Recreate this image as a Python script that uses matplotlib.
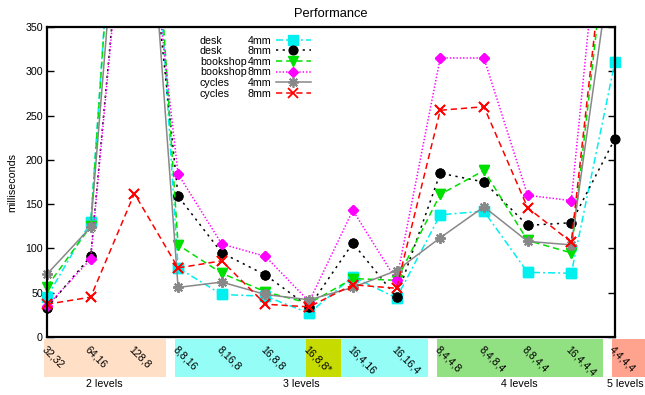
import numpy as np
import matplotlib
matplotlib.use("Agg")
import matplotlib.pyplot as plt
from matplotlib.patches import Rectangle
from matplotlib.lines import Line2D

# ---------------- data ----------------
categories = ["32,32", "64,16", "128,8", "8,8,16", "8,16,8", "16,8,8", "16,8,8*",
              "16,4,16", "16,16,4", "8,4,4,8", "8,4,8,4", "8,8,4,4", "16,4,4,4", "4,4,4,4"]

desk_4mm = [45, 130, 850, 78, 48, 46, 27, 68, 44, 138, 142, 73, 72, 311]
desk_8mm = [33, 91, 630, 159, 95, 70, 34, 106, 45, 185, 175, 126, 129, 224]
bookshop_4mm = [57, 125, 850, 104, 72, 51, 38, 66, 64, 161, 188, 109, 95, 532]
bookshop_8mm = [35, 88, 620, 184, 105, 91, 40, 143, 64, 315, 315, 160, 154, 652]
cycles_4mm = [71, 124, 730, 56, 62, 48, 42, 56, 75, 112, 147, 108, 104, 455]
cycles_8mm = [37, 45, 162, 78, 86, 37, 34, 59, 55, 256, 260, 146, 107, 550]

scene_names = ["desk", "desk", "bookshop", "bookshop", "cycles", "cycles"]
size_names = ["4mm", "8mm", "4mm", "8mm", "4mm", "8mm"]

group_names = ["2 levels", "3 levels", "4 levels", "5 levels"]
group_first = [0, 3, 9, 13]
group_last = [2, 8, 12, 13]
group_colors = ["#ffdfc6", "#93fdf6", "#91e082", "#ffa38e"]
highlight_index = 6
highlight_color = "#c6dc00"

y_ticks = [0, 50, 100, 150, 200, 250, 300, 350]
y_max = 350

# ---------------- style ----------------
plt.rcParams['font.family'] = ['Liberation Sans', 'DejaVu Sans']
plt.rcParams['font.size'] = 7.7
plt.rcParams['lines.scale_dashes'] = False

fig = plt.figure(figsize=(6.45, 3.95), dpi=100)
ax = fig.add_axes([47 / 645, 1 - 337 / 395, 568 / 645, 310 / 395])

x = np.arange(len(categories))
all_series = [desk_4mm, desk_8mm, bookshop_4mm, bookshop_8mm, cycles_4mm, cycles_8mm]
styles = [
    dict(color="#00f0f0", ls=(0, (5, 2.2, 1.4, 2.2)), marker="s", ms=6.8),
    dict(color="#000000", ls=(0, (1.6, 3.2)), marker="o", ms=6.3),
    dict(color="#00e000", ls=(0, (4.5, 2.8)), marker="v", ms=6.5),
    dict(color="#ff00ff", ls=(0, (1.0, 1.4)), marker="D", ms=4.8),
    dict(color="#888888", ls="-", marker=(8, 2, 0), ms=7.5),
    dict(color="#ff0000", ls=(0, (4.5, 2.8)), marker="x", ms=7),
]

handles = []
for vals, st in zip(all_series, styles):
    mew = 1.3 if st["marker"] in ("x", (8, 2, 0)) else 1.0
    ln, = ax.plot(x, vals, color=st["color"], ls=st["ls"], lw=1.1,
                  marker=st["marker"], ms=st["ms"], mew=mew,
                  mfc=st["color"], mec=st["color"], clip_on=True)
    ax.plot(x, np.ma.masked_greater(np.array(vals, dtype=float), y_max),
            ls="none", marker=st["marker"], ms=st["ms"], mew=mew,
            mfc=st["color"], mec=st["color"], clip_on=False)
    handles.append(ln)

ax.set_xlim(0, len(categories) - 1)
ax.set_ylim(0, y_max)
ax.set_yticks(y_ticks)
ax.tick_params(axis='y', direction='in', length=5, width=1, right=True, pad=3)
ax.set_xticks(x, categories, rotation=-45, ha='left', rotation_mode='anchor')
ax.tick_params(axis='x', length=0, pad=5)
for s in ax.spines.values():
    s.set_linewidth(1.6)

ax.set_title("Performance", pad=7)
ax.set_ylabel("milliseconds", labelpad=5.5)

# category group boxes under the axis
trans = ax.get_xaxis_transform()
for name, f, l, c in zip(group_names, group_first, group_last, group_colors):
    x0 = f - 0.08
    x1 = l + 0.72
    ax.add_patch(Rectangle((x0, -0.128), x1 - x0, 0.123, transform=trans,
                           facecolor=c, edgecolor='none', clip_on=False, zorder=0.5))
    cx = min((x0 + x1) / 2, len(categories) - 1 + 0.24)
    ax.text(cx, -0.152, name, transform=trans, ha='center', va='center')
ax.add_patch(Rectangle((highlight_index - 0.08, -0.128), 0.81, 0.123, transform=trans,
                       facecolor=highlight_color, edgecolor='none', clip_on=False, zorder=0.6))

# legend: names on the left, size + sample on the right
name_handles = [Line2D([], [], lw=0) for _ in scene_names]
leg1 = ax.legend(name_handles, scene_names, loc='upper left',
                 bbox_to_anchor=((200 - 47) / 568, (337 - 35.5) / 310),
                 frameon=False, handlelength=0, handletextpad=0, borderpad=0,
                 borderaxespad=0, labelspacing=0.06)
ax.add_artist(leg1)
ax.legend(handles, size_names, loc='upper right',
          bbox_to_anchor=((311 - 47) / 568, (337 - 35.5) / 310),
          frameon=False, markerfirst=False, numpoints=1, handlelength=3.3,
          handletextpad=0.4, borderpad=0, borderaxespad=0, labelspacing=0.06)

fig.savefig("out.png", dpi=100)
